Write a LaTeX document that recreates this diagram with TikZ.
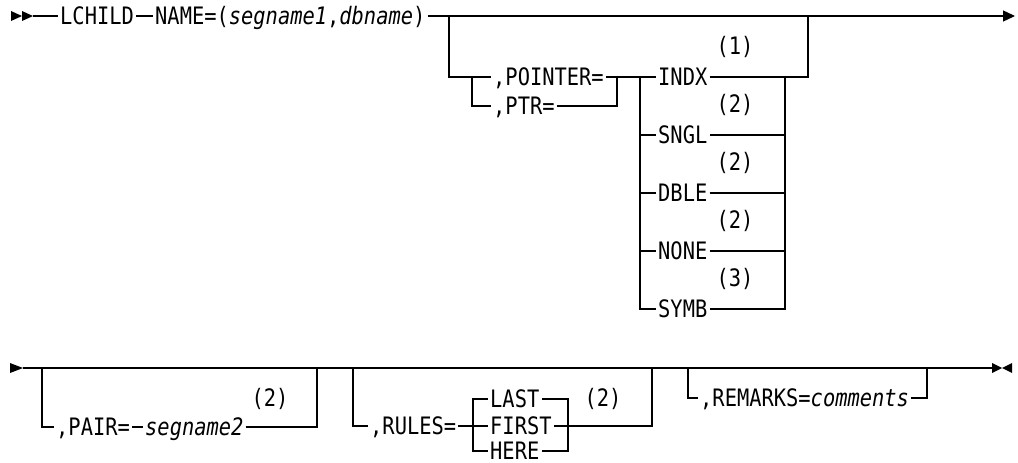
\documentclass[tikz,border=0pt]{standalone}
\usepackage{fontspec}
\newfontfamily\synfont[FakeStretch=0.85]{DejaVu Sans Mono}
\usetikzlibrary{arrows.meta,calc,positioning}
\tikzset{
    syn word/.style={
        anchor=west,
        inner xsep=2pt,
        inner ysep=0pt,
        text height=17.5pt,
        text depth=0pt,
        font=\fontsize{24}{28}\synfont
    },
    syn note/.style={
        inner sep=0pt,
        font=\fontsize{24}{28}\synfont
    },
    syn rail/.style={line width=1.3pt},
    syn tip/.style={-{Triangle[length=12pt,width=11pt]}, line width=1.3pt}
}

\begin{document}
\begin{tikzpicture}[x=1pt,y=-1pt]
    \useasboundingbox (0,0) rectangle (1018,463);

    \fill (11,11) -- (22,16) -- (11,21) -- cycle;
    \fill (22,11) -- (33,16) -- (22,21) -- cycle;
    \coordinate (s1) at (33,16);
    \coordinate (e1) at (1015,16);
    \node[syn word] (lchild) at (58,16) {LCHILD};
    \node[syn word] (name) at (153,16) {NAME=(\textit{segname1},\textit{dbname})};

    \draw[syn rail] (s1) -- (lchild.west);
    \draw[syn rail] (lchild.east) -- (name.west);
    \draw[syn tip] (name.east) -- (e1);

    \coordinate (b1l) at (449,16);
    \coordinate (b1r) at (808,16);
    \coordinate (p1) at (472,77);
    \coordinate (p2) at (617,77);
    \coordinate (c1) at (640,77);
    \coordinate (c2) at (785,77);
    \node[syn word] (pointer) at (491,77) {,POINTER=};
    \node[syn word] (ptr) at (491,106) {,PTR=};

    \draw[syn rail] (b1l) |- (p1) |- (ptr.west);
    \draw[syn rail] (p1) -- (pointer.west);
    \draw[syn rail] (pointer.east) -- (c1);
    \draw[syn rail] (ptr.east) -| (p2);

    \foreach \w/\y/\n in {INDX/77/1,SNGL/135/2,DBLE/193/2,NONE/251/2,SYMB/309/3} {
        \node[syn word] (\w) at (656,\y) {\w};
        \node[syn note] (note\w) at (735,\y-30) {(\n)};
    }

    \draw[syn rail] (c1) |- (SYMB.west);
    \draw[syn rail] (c1) -- (INDX.west);
    \draw[syn rail] (INDX.east) -| (b1r);
    \draw[syn rail] (SYMB.east) -| (c2);
    \foreach \w in {SNGL,DBLE,NONE} {
        \draw[syn rail] (c1 |- \w.west) -- (\w.west);
        \draw[syn rail] (\w.east) -- (c2 |- \w.east);
    }

    \fill (10,363) -- (23,368) -- (10,373) -- cycle;
    \fill (992,363) -- (1002,368) -- (992,373) -- cycle;
    \fill (1012,363) -- (1002,368) -- (1012,373) -- cycle;
    \coordinate (s2) at (23,368);
    \coordinate (e2) at (992,368);
    \draw[syn rail] (s2) -- (e2);

    \coordinate (b2l) at (42,368);
    \coordinate (b2r) at (317,368);
    \node[syn word] (pair) at (54,427) {,PAIR=};
    \node[syn word] (seg2) at (143,427) {\textit{segname2}};
    \node[syn note] (notepair) at (270,399) {(2)};
    \draw[syn rail] (b2l) |- (pair.west);
    \draw[syn rail] (pair.east) -- (seg2.west);
    \draw[syn rail] (seg2.east) -| (b2r);

    \coordinate (b3l) at (353,368);
    \coordinate (b3r) at (652,368);
    \coordinate (r1) at (473,426);
    \coordinate (r2) at (568,426);
    \node[syn word] (rules) at (368,426) {,RULES=};
    \node[syn word] (LAST) at (488,399) {LAST};
    \node[syn word] (FIRST) at (488,426) {FIRST};
    \node[syn word] (HERE) at (488,451) {HERE};
    \node[syn note] (noterules) at (603,399) {(2)};
    \draw[syn rail] (b3l) |- (rules.west);
    \draw[syn rail] (rules.east) -- (FIRST.west);
    \draw[syn rail] (LAST.west) -- (r1 |- LAST.west) -- (r1 |- HERE.west) -- (HERE.west);
    \draw[syn rail] (LAST.east) -- (r2 |- LAST.east) -- (r2 |- HERE.east) -- (HERE.east);
    \draw[syn rail] (FIRST.east) -| (b3r);

    \coordinate (b4l) at (688,368);
    \coordinate (b4r) at (927,368);
    \node[syn word] (remarks) at (698,398) {,REMARKS=\textit{comments}};
    \draw[syn rail] (b4l) |- (remarks.west);
    \draw[syn rail] (remarks.east) -| (b4r);
\end{tikzpicture}
\end{document}
